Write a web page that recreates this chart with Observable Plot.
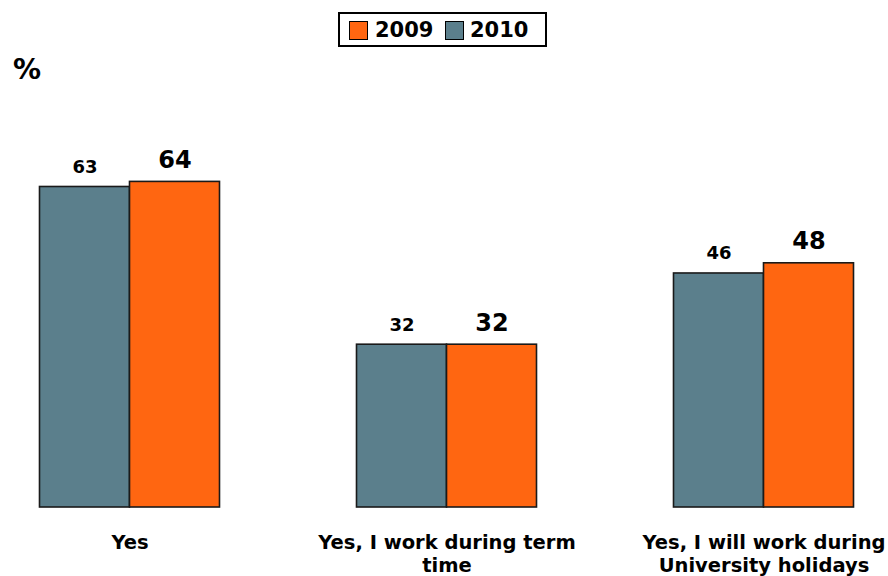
<!DOCTYPE html>
<html>
<head>
<meta charset="utf-8">
<script src="https://cdn.jsdelivr.net/npm/d3@7"></script>
<script src="https://cdn.jsdelivr.net/npm/@observablehq/plot@0.6"></script>
<style>
  html, body { margin: 0; padding: 0; background: #fff; }
  body { width: 888px; height: 576px; overflow: hidden; font-family: "DejaVu Sans", Verdana, sans-serif; font-weight: bold; }
  #wrap { position: relative; width: 888px; height: 576px; }
  #header { position: relative; height: 60px; }
  #legend { position: absolute; left: 338px; top: 12px; width: 209px; height: 35px; border: 2px solid #000; box-sizing: border-box; }
  .sw { position: absolute; top: 7px; width: 19px; height: 19px; border: 1.5px solid #000; box-sizing: border-box; }
  .lt { position: absolute; top: 3px; font-size: 21px; line-height: 26px; color: #000; }
  #pct { position: absolute; left: 13px; top: 54px; font-size: 28px; line-height: 32px; color: #000; z-index: 5; }
  #chart { position: relative; z-index: 1; }
</style>
</head>
<body>
<div id="wrap">
  <div id="header">
    <div id="legend"></div>
  </div>
  <div id="chart"></div>
  <div id="pct">%</div>
</div>
<script>
const categories = ["Yes", "Yes, I work during term time", "Yes, I will work during University holidays"];
const categoryLabels = ["Yes", "Yes, I work during term\ntime", "Yes, I will work during\nUniversity holidays"];
const seriesNames = ["2009", "2010"];
const seriesColors = ["#ff6611", "#5b7f8c"];
const values2009 = [64, 32, 48];
const values2010 = [63, 32, 46];

// Legend
const legend = document.getElementById("legend");
const legendPos = [[9, 35], [105, 130]];
seriesNames.forEach((s, i) => {
  const sw = document.createElement("div");
  sw.className = "sw";
  sw.style.left = legendPos[i][0] + "px";
  sw.style.background = seriesColors[i];
  legend.appendChild(sw);
  const t = document.createElement("div");
  t.className = "lt";
  t.style.left = legendPos[i][1] + "px";
  t.textContent = s;
  legend.appendChild(t);
});

const data = [];
categories.forEach((c, i) => {
  data.push({category: c, series: "2010", value: values2010[i]});
  data.push({category: c, series: "2009", value: values2009[i]});
});
const catData = categories.map((c, i) => ({category: c, label: categoryLabels[i]}));

const chart = Plot.plot({
  width: 888,
  height: 516,
  marginLeft: 28.5,
  marginRight: 23.5,
  marginTop: 40,
  marginBottom: 69,
  style: {fontFamily: "'DejaVu Sans', Verdana, sans-serif", fontWeight: "bold", background: "#fff", color: "#000", overflow: "visible"},
  fx: {domain: categories, axis: null, paddingInner: 0.371, paddingOuter: 0},
  x: {domain: ["2010", "2009"], axis: null, paddingInner: 0, paddingOuter: 0.099},
  y: {domain: [0, 80], axis: null},
  color: {domain: seriesNames, range: seriesColors},
  marks: [
    Plot.barY(data, {fx: "category", x: "series", y: "value", fill: "series", stroke: "#1a1a1a", strokeWidth: 1.6}),
    Plot.text(data.filter(d => d.series === "2010"), {fx: "category", x: "series", y: "value", text: d => String(d.value), lineAnchor: "bottom", dy: -14, fontSize: 18, fontWeight: "bold", fill: "#000"}),
    Plot.text(data.filter(d => d.series === "2009"), {fx: "category", x: "series", y: "value", text: d => String(d.value), lineAnchor: "bottom", dy: -14, fontSize: 24, fontWeight: "bold", fill: "#000"}),
    Plot.text(catData, {fx: "category", text: "label", frameAnchor: "bottom", lineAnchor: "top", dy: 26, fontSize: 19.5, lineHeight: 1.14, fontWeight: "bold", fill: "#000"})
  ]
});
document.getElementById("chart").appendChild(chart);
</script>
</body>
</html>
